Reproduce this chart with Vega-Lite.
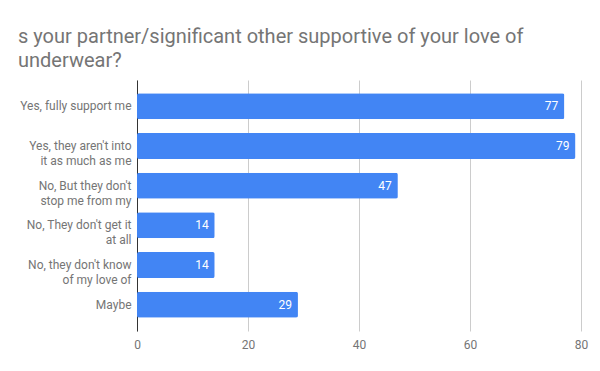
{
  "$schema": "https://vega.github.io/schema/vega-lite/v6.json",
  "width": 444,
  "height": 251,
  "autosize": {"type": "none"},
  "padding": {"left": 137, "top": 80, "right": 19, "bottom": 40},
  "background": "white",
  "config": {"view": {"stroke": null}, "font": "Roboto"},
  "title": {
    "text": ["s your partner/significant other supportive of your love of", "underwear?"],
    "anchor": "start",
    "frame": "group",
    "dx": -119,
    "offset": -11,
    "baseline": "bottom",
    "lineHeight": 24,
    "fontSize": 20,
    "fontWeight": "normal",
    "color": "#757575",
    "font": "Roboto"
  },
  "data": {
    "values": [
      {"answer": "Yes, fully support me", "count": 77},
      {"answer": "Yes, they aren't into\nit as much as me", "count": 79},
      {"answer": "No, But they don't\nstop me from my", "count": 47},
      {"answer": "No, They don't get it\nat all", "count": 14},
      {"answer": "No, they don't know\nof my love of", "count": 14},
      {"answer": "Maybe", "count": 29}
    ]
  },
  "encoding": {
    "y": {
      "field": "answer",
      "type": "nominal",
      "sort": null,
      "scale": {"paddingInner": 0.346, "paddingOuter": 0.332},
      "axis": {
        "title": null,
        "labelExpr": "split(datum.label, '\\n')",
        "labelFontSize": 12,
        "labelLineHeight": 15,
        "labelColor": "#757575",
        "labelPadding": 6,
        "labelLimit": 200,
        "ticks": false,
        "domainColor": "#333333",
        "domainWidth": 1,
        "grid": false
      }
    },
    "x": {
      "field": "count",
      "type": "quantitative",
      "scale": {"domain": [0, 80]},
      "axis": {
        "title": null,
        "values": [0, 20, 40, 60, 80],
        "domain": false,
        "ticks": false,
        "grid": true,
        "gridColor": "#cccccc",
        "labelFlush": false,
        "labelFontSize": 12,
        "labelColor": "#757575",
        "labelPadding": 8
      }
    }
  },
  "layer": [
    {"mark": {"type": "bar", "color": "#4285F4", "cornerRadius": 2}},
    {
      "mark": {"type": "text", "align": "right", "baseline": "middle", "dx": -6, "color": "white", "fontSize": 12},
      "encoding": {"text": {"field": "count", "type": "quantitative"}}
    }
  ]
}
